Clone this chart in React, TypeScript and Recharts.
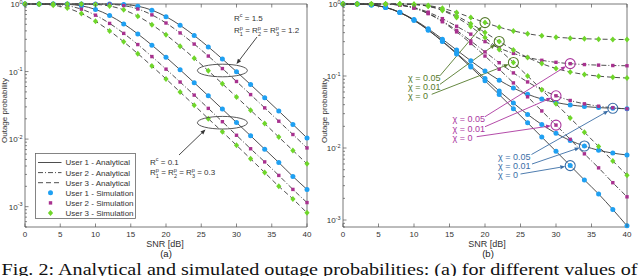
import React from 'react';
import { ComposedChart, Line, XAxis, YAxis, ReferenceDot, ReferenceLine } from 'recharts';

// ---------- data ----------
const snr = [0, 2, 4, 6, 8, 10, 12, 14, 16, 18, 20, 22, 24, 26, 28, 30, 32, 34, 36, 38, 40];
const xTicks = [0, 5, 10, 15, 20, 25, 30, 35, 40];

// panel (a): R^c = 1.5, R^p = 1.2
const a1Hi = [1, 1, 1, 1, 1, 1, 0.9987, 0.9847, 0.9285, 0.8106, 0.6501, 0.4844, 0.3416, 0.2319, 0.1533, 0.0997, 0.0641, 0.0409, 0.026, 0.0165, 0.0104];
const a2Hi = [1, 1, 1, 1, 1, 0.9994, 0.9906, 0.9474, 0.8442, 0.6905, 0.5229, 0.373, 0.2551, 0.1696, 0.1107, 0.0713, 0.0456, 0.029, 0.0184, 0.0117, 0.0074];
const a3Hi = [1, 1, 1, 1, 0.9989, 0.9864, 0.9337, 0.8195, 0.6604, 0.4941, 0.3495, 0.2376, 0.1573, 0.1024, 0.0659, 0.0421, 0.0268, 0.017, 0.0107, 0.0068, 0.0043];
// panel (a): R^c = 0.1, R^p = 0.3
const a1Lo = [1, 1, 0.9992, 0.9886, 0.9404, 0.8314, 0.6747, 0.5077, 0.3605, 0.2458, 0.1631, 0.1062, 0.0684, 0.0437, 0.0278, 0.0176, 0.0112, 0.0071, 0.0045, 0.0028, 0.0018];
const a2Lo = [1, 0.9993, 0.9897, 0.9444, 0.8383, 0.6834, 0.516, 0.3673, 0.2509, 0.1666, 0.1086, 0.07, 0.0448, 0.0285, 0.0181, 0.0114, 0.0072, 0.0046, 0.0029, 0.0018, 0.00115];
const a3Lo = [0.9997, 0.994, 0.9602, 0.8693, 0.723, 0.5551, 0.4001, 0.2756, 0.1841, 0.1205, 0.0778, 0.0498, 0.0317, 0.0201, 0.0128, 0.0081, 0.0051, 0.0032, 0.002, 0.0013, 0.00081];

// panel (b): chi = 0, 0.01, 0.05
const b1c0 = [1, 0.9966, 0.9722, 0.8957, 0.7598, 0.5934, 0.4332, 0.3011, 0.2024, 0.1329, 0.0861, 0.0552, 0.0352, 0.0224, 0.0142, 0.009, 0.0057, 0.0036, 0.0023, 0.0014, 0.00083];
const b1c1 = [1, 0.9966, 0.9724, 0.8964, 0.7615, 0.5963, 0.4372, 0.3061, 0.2081, 0.1391, 0.0926, 0.0619, 0.0421, 0.0293, 0.0212, 0.016, 0.0127, 0.01065, 0.0093, 0.0085, 0.008];
const b1c5 = [1, 0.9967, 0.9732, 0.8993, 0.768, 0.6073, 0.4526, 0.325, 0.2297, 0.1626, 0.1174, 0.0875, 0.0682, 0.0558, 0.0479, 0.0429, 0.0397, 0.0377, 0.0364, 0.0356, 0.0351];
const b2c0 = [1, 1, 0.9998, 0.9949, 0.9641, 0.8775, 0.7342, 0.5666, 0.4099, 0.2831, 0.1894, 0.1241, 0.0802, 0.0514, 0.0327, 0.0208, 0.0132, 0.0083, 0.0053, 0.0033, 0.0021];
const b2c1 = [1, 1, 0.9998, 0.9951, 0.9653, 0.8815, 0.743, 0.5809, 0.4294, 0.3068, 0.2162, 0.153, 0.1105, 0.0827, 0.0646, 0.0531, 0.0457, 0.0411, 0.0381, 0.0362, 0.035];
const b2c5 = [1, 1, 0.9998, 0.9956, 0.969, 0.8943, 0.7706, 0.626, 0.4907, 0.3813, 0.3005, 0.2441, 0.2062, 0.1814, 0.1652, 0.1549, 0.1484, 0.1442, 0.1416, 0.1398, 0.1388];
const b3c0 = [1, 1, 1, 1, 0.9987, 0.985, 0.9293, 0.8121, 0.6518, 0.486, 0.343, 0.2328, 0.154, 0.1001, 0.0644, 0.0411, 0.0261, 0.0166, 0.0105, 0.0066, 0.0042];
const b3c1 = [1, 1, 1, 1, 0.9988, 0.9864, 0.9357, 0.829, 0.6831, 0.5323, 0.4021, 0.3018, 0.2301, 0.1811, 0.1486, 0.1274, 0.1138, 0.1051, 0.0996, 0.096, 0.0938];
const b3c5 = [1, 1, 1, 1, 0.9991, 0.9898, 0.9518, 0.8719, 0.7626, 0.6495, 0.5519, 0.4768, 0.423, 0.3863, 0.3619, 0.346, 0.3358, 0.3293, 0.3252, 0.3225, 0.3209];

const legendLabels = ['User 1 - Analytical', 'User 2 - Analytical', 'User 3 - Analytical', 'User 1 - Simulation', 'User 2 - Simulation', 'User 3 - Simulation'];
const caption = 'Fig. 2: Analytical and simulated outage probabilities: (a) for different values of';

// ---------- styles ----------
const FONT = '"Liberation Sans", Arial, Helvetica, sans-serif';
const TXT = '#333333';
const AX = '#555555';
const LINE = '#3a3a3a';
const BLUE = '#1fa0f2';
const MAG = '#a8318f';
const GREEN = '#6fd62a';
const G_ANN = '#557a2c';
const M_ANN = '#ab389f';
const B_ANN = '#3b6ea6';
const DASH2 = '5 2 1 2';
const DASH3 = '5 3';

const dataA = snr.map((s, i) => ({ snr: s, a1Hi: a1Hi[i], a2Hi: a2Hi[i], a3Hi: a3Hi[i], a1Lo: a1Lo[i], a2Lo: a2Lo[i], a3Lo: a3Lo[i] }));
const dataB = snr.map((s, i) => ({ snr: s, b1c0: b1c0[i], b1c1: b1c1[i], b1c5: b1c5[i], b2c0: b2c0[i], b2c1: b2c1[i], b2c5: b2c5[i], b3c0: b3c0[i], b3c1: b3c1[i], b3c5: b3c5[i] }));

const makeLogTicks = (lo: number) => {
  const t: number[] = [];
  for (let e = -4; e <= 0; e++) {
    for (let m = 1; m <= 9; m++) {
      const v = parseFloat((m * Math.pow(10, e)).toPrecision(3));
      if (v >= lo - 1e-12 && v <= 1 + 1e-12) t.push(v);
    }
  }
  return t;
};
const yTicksA = makeLogTicks(0.0005);
const yTicksB = makeLogTicks(0.0008);
const isMajor = (v: number) => Math.abs(Math.log10(v) - Math.round(Math.log10(v))) < 1e-6;

// ---------- markers ----------
const circleDot = (p: any) => <circle key={`c${p.index}`} cx={p.cx} cy={p.cy} r={2.5} fill={BLUE} />;
const squareDot = (p: any) => <rect key={`s${p.index}`} x={p.cx - 1.7} y={p.cy - 1.7} width={3.4} height={3.4} fill={MAG} />;
const diamondDot = (p: any) => (
  <polygon key={`d${p.index}`} points={`${p.cx},${p.cy - 3} ${p.cx + 2.6},${p.cy} ${p.cx},${p.cy + 3} ${p.cx - 2.6},${p.cy}`} fill={GREEN} />
);

// ---------- ticks ----------
const XTickBottom = (p: any) => (
  <g>
    <line x1={p.x} y1={p.y} x2={p.x} y2={p.y - 3.5} stroke={AX} strokeWidth={0.7} />
    <text x={p.x} y={p.y + 9.5} textAnchor="middle" fontSize={8} fontFamily={FONT} fill={TXT}>{p.payload.value}</text>
  </g>
);
const XTickTop = (p: any) => <line x1={p.x} y1={p.y} x2={p.x} y2={p.y + 3.5} stroke={AX} strokeWidth={0.7} />;
const YTickLeft = (p: any) => {
  const v = p.payload.value;
  const maj = isMajor(v);
  const ex = Math.round(Math.log10(v));
  return (
    <g>
      <line x1={p.x} y1={p.y} x2={p.x + (maj ? 3.5 : 2)} y2={p.y} stroke={AX} strokeWidth={0.7} />
      {maj && (
        <text x={p.x - 2.5} y={p.y + 3} textAnchor="end" fontSize={8} fontFamily={FONT} fill={TXT}>
          10<tspan dy={-3.5} fontSize={5.5}>{ex}</tspan>
        </text>
      )}
    </g>
  );
};
const YTickRight = (p: any) => {
  const maj = isMajor(p.payload.value);
  return <line x1={p.x} y1={p.y} x2={p.x - (maj ? 3.5 : 2)} y2={p.y} stroke={AX} strokeWidth={0.7} />;
};

const xLabel = (tag: string, shift: number) => (p: any) => {
  const vb = p.viewBox;
  const cx = vb.x + vb.width / 2 + shift;
  return (
    <g>
      <text x={cx} y={vb.y + 19.5} textAnchor="middle" fontSize={9} fontFamily={FONT} fill={TXT}>SNR [dB]</text>
      <text x={cx + 1} y={vb.y + 29.5} textAnchor="middle" fontSize={9.5} fontFamily={FONT} fill="#222">{tag}</text>
    </g>
  );
};
const yLabel = (dx: number) => (p: any) => {
  const vb = p.viewBox;
  const cx = vb.x + dx;
  const cy = vb.y + vb.height / 2 - 5;
  return (
    <text x={cx} y={cy} transform={`rotate(-90 ${cx} ${cy})`} textAnchor="middle" dominantBaseline="central" fontSize={8} fontFamily={FONT} fill={TXT}>
      Outage probability
    </text>
  );
};

// ---------- annotation helpers (pixel placement -> data coords) ----------
const La = { x0: 25, sx: 7.05, y0: 4, sy: 223 / Math.log10(1 / 0.0005) };
const Rb = { x0: 23, sx: 7.1, y0: 4, sy: 223 / Math.log10(1 / 0.0008) };
const px2x = (m: any, px: number) => (px - m.x0) / m.sx;
const py2y = (m: any, py: number) => Math.pow(10, -(py - m.y0) / m.sy);

const arrowShape = (color: string, shorten: number) => (p: any) => {
  const { x1, y1, x2, y2 } = p;
  const dx = x2 - x1, dy = y2 - y1;
  const len = Math.hypot(dx, dy) || 1;
  const ux = dx / len, uy = dy / len;
  const ex = x2 - ux * shorten, ey = y2 - uy * shorten;
  const hl = 5, hw = 2;
  const bx = ex - ux * hl, by = ey - uy * hl;
  return (
    <g>
      <line x1={x1} y1={y1} x2={bx} y2={by} stroke={color} strokeWidth={0.9} />
      <polygon points={`${ex},${ey} ${bx - uy * hw},${by + ux * hw} ${bx + uy * hw},${by - ux * hw}`} fill={color} />
    </g>
  );
};

const arrow = (key: string, m: any, tx: number, ty: number, hx: number, hy: number, color: string, shorten: number) => (
  <ReferenceLine key={key} segment={[{ x: px2x(m, tx), y: py2y(m, ty) }, { x: hx, y: hy }]} ifOverflow="visible" shape={arrowShape(color, shorten)} />
);

const chiText = (key: string, m: any, px: number, py: number, label: string, color: string) => (
  <ReferenceDot key={key} x={px2x(m, px)} y={py2y(m, py)} r={0} ifOverflow="visible"
    shape={(p: any) => (
      <text x={p.cx} y={p.cy} fontSize={9} fontFamily={FONT} fill={color}>{label}</text>
    )} />
);

const ring = (key: string, x: number, y: number, color: string) => (
  <ReferenceDot key={key} x={x} y={y} r={5} ifOverflow="visible"
    shape={(p: any) => (
      <g>
        <circle cx={p.cx} cy={p.cy} r={5} fill="none" stroke={color} strokeWidth={1.1} />
        <circle cx={p.cx} cy={p.cy} r={3.6} fill="none" stroke="#ffffff" strokeWidth={0.8} />
      </g>
    )} />
);

const ellipse = (key: string, x: number, y: number) => (
  <ReferenceDot key={key} x={x} y={y} r={1} ifOverflow="visible"
    shape={(p: any) => <ellipse cx={p.cx} cy={p.cy} rx={25} ry={6.3} fill="none" stroke="#444" strokeWidth={0.9} />} />
);

const rText = (key: string, px: number, py: number, sup: string, value: string) => (
  <ReferenceDot key={key} x={px2x(La, px)} y={py2y(La, py)} r={0} ifOverflow="visible"
    shape={(p: any) => (
      <text x={p.cx} y={p.cy} fontSize={8} fontFamily={FONT} fill={TXT}>
        {sup === 'c' ? (
          <>R<tspan dy={-3.5} fontSize={5.5}>c</tspan><tspan dy={3.5}>{` = ${value}`}</tspan></>
        ) : (
          <>
            R<tspan dy={-3.5} fontSize={5.5}>p</tspan><tspan dx={-3} dy={6} fontSize={5.5}>1</tspan>
            <tspan dy={-2.5}>{' = R'}</tspan><tspan dy={-3.5} fontSize={5.5}>p</tspan><tspan dx={-3} dy={6} fontSize={5.5}>2</tspan>
            <tspan dy={-2.5}>{' = R'}</tspan><tspan dy={-3.5} fontSize={5.5}>p</tspan><tspan dx={-3} dy={6} fontSize={5.5}>3</tspan>
            <tspan dy={-2.5}>{` = ${value}`}</tspan>
          </>
        )}
      </text>
    )} />
);

// ---------- legend (overlay) ----------
const LegendBox = () => {
  const rows = [
    { kind: 'line', dash: undefined },
    { kind: 'line', dash: DASH2 },
    { kind: 'line', dash: DASH3 },
    { kind: 'c' },
    { kind: 's' },
    { kind: 'd' },
  ] as any[];
  return (
    <svg width={101} height={66} style={{ position: 'absolute', left: 34.5, top: 152.5 }}>
      <rect x={0.5} y={0.5} width={100} height={65} fill="#fff" stroke="#666" strokeWidth={0.8} />
      {rows.map((r, i) => {
        const y = 9.5 + i * 10.1;
        return (
          <g key={i}>
            {r.kind === 'line' && <line x1={3} y1={y} x2={26.5} y2={y} stroke={LINE} strokeWidth={0.9} strokeDasharray={r.dash} />}
            {r.kind === 'c' && <circle cx={15.5} cy={y} r={2.5} fill={BLUE} />}
            {r.kind === 's' && <rect x={13.8} y={y - 1.7} width={3.4} height={3.4} fill={MAG} />}
            {r.kind === 'd' && <polygon points={`15.5,${y - 3} 18.1,${y} 15.5,${y + 3} 12.9,${y}`} fill={GREEN} />}
            <text x={30.5} y={y + 2.9} fontSize={8} fontFamily={FONT} fill={TXT}>{legendLabels[i]}</text>
          </g>
        );
      })}
    </svg>
  );
};

const axesCommon = (ticksY: number[], domY: [number, number], yw: number, tag: string, xShift: number, ylabDx: number) => [
  <XAxis key="xb" xAxisId={0} dataKey="snr" type="number" domain={[0, 40]} ticks={xTicks} interval={0} tickSize={0} tickMargin={0} tickLine={false}
    axisLine={{ stroke: AX, strokeWidth: 0.8 }} tick={XTickBottom} height={35} label={{ content: xLabel(tag, xShift) } as any} />,
  <XAxis key="xt" xAxisId="top" orientation="top" dataKey="snr" type="number" domain={[0, 40]} ticks={xTicks} interval={0} tickSize={0} tickMargin={0}
    tickLine={false} axisLine={{ stroke: AX, strokeWidth: 0.8 }} tick={XTickTop} height={4} />,
  <YAxis key="yl" yAxisId={0} type="number" scale="log" domain={domY} ticks={ticksY} interval={0} width={yw} tickSize={0} tickMargin={0}
    tickLine={false} axisLine={{ stroke: AX, strokeWidth: 0.8 }} tick={YTickLeft} label={{ content: yLabel(ylabDx) } as any} />,
  <YAxis key="yr" yAxisId="r" orientation="right" type="number" scale="log" domain={domY} ticks={ticksY} interval={0} width={13} tickSize={0}
    tickMargin={0} tickLine={false} axisLine={{ stroke: AX, strokeWidth: 0.8 }} tick={YTickRight} />,
];

const anLine = (key: string, dash?: string) => (
  <Line key={`l-${key}`} dataKey={key} type="monotone" stroke={LINE} strokeWidth={0.9} strokeDasharray={dash} dot={false} activeDot={false} isAnimationActive={false} />
);
const simDots = (key: string, dot: any) => (
  <Line key={`m-${key}`} dataKey={key} stroke="none" dot={dot} activeDot={false} isAnimationActive={false} legendType="none" />
);

export default function App() {
  return (
    <div style={{ position: 'absolute', left: 0, top: 0, width: 640, height: 276, background: '#fff', overflow: 'hidden' }}>
      <div style={{ position: 'absolute', left: 0, top: 0 }}>
        <ComposedChart width={320} height={262} data={dataA} margin={{ top: 0, right: 0, bottom: 0, left: 0 }}>
          {axesCommon(yTicksA, [0.0005, 1], 25, '(a)', -1, 4.5)}
          {anLine('a1Hi')}{anLine('a2Hi', DASH2)}{anLine('a3Hi', DASH3)}
          {anLine('a1Lo')}{anLine('a2Lo', DASH2)}{anLine('a3Lo', DASH3)}
          {simDots('a1Hi', circleDot)}{simDots('a1Lo', circleDot)}
          {simDots('a2Hi', squareDot)}{simDots('a2Lo', squareDot)}
          {simDots('a3Hi', diamondDot)}{simDots('a3Lo', diamondDot)}
          {ellipse('e1', snr[14], py2y(La, 70.5))}
          {ellipse('e2', snr[14], py2y(La, 122.7))}
          {rText('t1', 234, 20.5, 'c', '1.5')}
          {rText('t2', 234, 33, 'p', '1.2')}
          {rText('t3', 150, 164.5, 'c', '0.1')}
          {rText('t4', 150, 175, 'p', '0.3')}
          {arrow('ar1', La, 257, 37, px2x(La, 236.5), py2y(La, 64), '#333', 0)}
          {arrow('ar2', La, 179, 155, px2x(La, 205.5), py2y(La, 129.5), '#333', 0)}
        </ComposedChart>
      </div>
      <div style={{ position: 'absolute', left: 320, top: 0 }}>
        <ComposedChart width={320} height={262} data={dataB} margin={{ top: 0, right: 0, bottom: 0, left: 0 }}>
          {axesCommon(yTicksB, [0.0008, 1], 23, '(b)', 2, 4.5)}
          {anLine('b1c0')}{anLine('b1c1')}{anLine('b1c5')}
          {anLine('b2c0', DASH2)}{anLine('b2c1', DASH2)}{anLine('b2c5', DASH2)}
          {anLine('b3c0', DASH3)}{anLine('b3c1', DASH3)}{anLine('b3c5', DASH3)}
          {simDots('b1c0', circleDot)}{simDots('b1c1', circleDot)}{simDots('b1c5', circleDot)}
          {simDots('b2c0', squareDot)}{simDots('b2c1', squareDot)}{simDots('b2c5', squareDot)}
          {simDots('b3c0', diamondDot)}{simDots('b3c1', diamondDot)}{simDots('b3c5', diamondDot)}
          {ring('g5', snr[10], b3c5[10], G_ANN)}
          {ring('g1', snr[11], b3c1[11], G_ANN)}
          {ring('g0', snr[12], b3c0[12], G_ANN)}
          {ring('m5', snr[16], b2c5[16], M_ANN)}
          {ring('m1', snr[15], b2c1[15], M_ANN)}
          {ring('m0', snr[15], b2c0[15], M_ANN)}
          {ring('u5', snr[19], b1c5[19], B_ANN)}
          {ring('u1', snr[17], b1c1[17], B_ANN)}
          {ring('u0', snr[16], b1c0[16], B_ANN)}
          {chiText('gt5', Rb, 88, 81, 'χ = 0.05', G_ANN)}
          {chiText('gt1', Rb, 88, 90, 'χ = 0.01', G_ANN)}
          {chiText('gt0', Rb, 88, 99, 'χ = 0', G_ANN)}
          {chiText('mt5', Rb, 132.5, 121.5, 'χ = 0.05', M_ANN)}
          {chiText('mt1', Rb, 132.5, 131.5, 'χ = 0.01', M_ANN)}
          {chiText('mt0', Rb, 132.5, 141, 'χ = 0', M_ANN)}
          {chiText('bt5', Rb, 178, 160, 'χ = 0.05', B_ANN)}
          {chiText('bt1', Rb, 178, 169, 'χ = 0.01', B_ANN)}
          {chiText('bt0', Rb, 178, 177.5, 'χ = 0', B_ANN)}
          {arrow('ga5', Rb, 120, 75.7, snr[10], b3c5[10], G_ANN, 5)}
          {arrow('ga1', Rb, 120, 84.3, snr[11], b3c1[11], G_ANN, 5)}
          {arrow('ga0', Rb, 111.7, 94.3, snr[12], b3c0[12], G_ANN, 5)}
          {arrow('ma5', Rb, 165, 116.7, snr[16], b2c5[16], M_ANN, 5)}
          {arrow('ma1', Rb, 165, 126.7, snr[15], b2c1[15], M_ANN, 5)}
          {arrow('ma0', Rb, 156.7, 136.7, snr[15], b2c0[15], M_ANN, 5)}
          {arrow('ba5', Rb, 211.5, 154.5, snr[19], b1c5[19], B_ANN, 5)}
          {arrow('ba1', Rb, 212, 164, snr[17], b1c1[17], B_ANN, 5)}
          {arrow('ba0', Rb, 200.5, 174, snr[16], b1c0[16], B_ANN, 5)}
        </ComposedChart>
      </div>
      <LegendBox />
      <svg width={640} height={276} style={{ position: 'absolute', left: 0, top: 0, pointerEvents: 'none' }}>
        <text x={1.5} y={274.5} fontSize={17.5} fontFamily='"Liberation Serif", "Times New Roman", serif' fill="#111" textLength={636} lengthAdjust="spacingAndGlyphs">
          {caption}
        </text>
      </svg>
    </div>
  );
}
